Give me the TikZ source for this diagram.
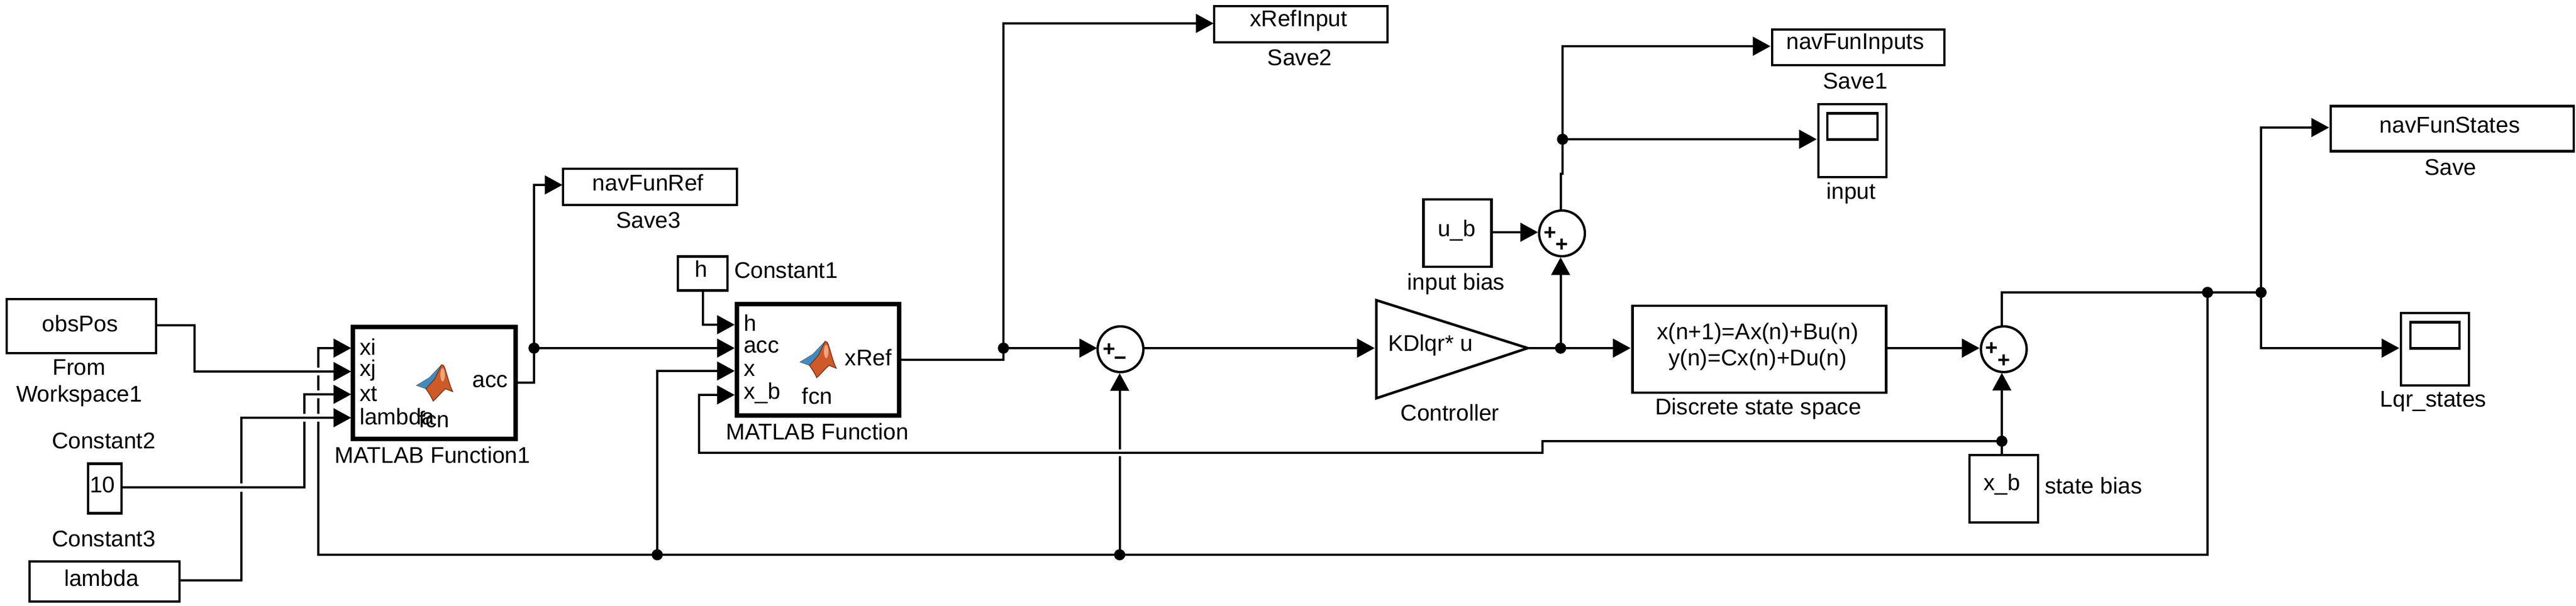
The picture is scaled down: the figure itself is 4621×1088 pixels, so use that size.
\documentclass[tikz,border=0pt]{standalone}
\usepackage{fontspec}
\setmainfont{Liberation Sans}
\usetikzlibrary{arrows.meta}
\definecolor{mlblue}{RGB}{60,140,195}
\definecolor{mlorange}{RGB}{205,90,40}
\definecolor{mldark}{RGB}{120,50,20}
\definecolor{mlhigh}{RGB}{240,165,125}
\tikzset{
  wire/.style={line width=1.14pt},
  sig/.style={wire,-{Triangle[length=9pt,width=9.5pt]}},
  box/.style={draw,line width=1.3pt,inner sep=0pt,outer sep=0pt,font=\fontsize{11.6}{12}\selectfont,align=center},
  fnblock/.style={draw,line width=2.3pt,inner sep=0pt,outer sep=0pt},
  lbl/.style={inner sep=0pt,outer sep=0pt,font=\fontsize{11.6}{13.6}\selectfont,align=center},
  dot/.style={circle,fill=black,inner sep=0pt,outer sep=0pt,minimum size=0.2cm},
  sumb/.style={circle,draw,line width=1.2pt,inner sep=0pt,outer sep=0pt,fill=white,minimum size=0.82cm},
  sgn/.style={inner sep=0pt,outer sep=0pt,font=\fontsize{11}{11}\bfseries\selectfont},
  mlogo/.pic={
    \fill[mlblue,draw=mldark!60!mlblue,line width=0.2pt] (0,37)--(23,23)--(45,0)--(48,2)--(33,25)--(17,43)--cycle;
    \fill[mlorange,draw=mldark,line width=0.4pt] (45,0)..controls (49,0) and (50,3)..(51,6)..controls (56,22) and (60,38)..(65,48)--(52,43)..controls (44,50) and (38,58)..(30,65)..controls (26,56) and (22,50)..(17,43)--(33,25)--cycle;
    \fill[mlhigh] (47,18) ellipse [x radius=4,y radius=12];
  }
}
\begin{document}
\begin{tikzpicture}[x=0.01cm,y=-0.01cm]
\useasboundingbox (0,0) rectangle (4621,1088);
% sources and blocks
\node[box,minimum width=2.68cm,minimum height=0.97cm] (obs) at (146,585.5) {};
\node[lbl] (obsT) at (144,581) {obsPos};
\node[lbl] (obsL) at (142,688) {From\\Workspace1};
\node[lbl] (c2L) at (186,791) {Constant2};
\node[box,minimum width=0.60cm,minimum height=0.89cm] (ten) at (188,877) {};
\node[lbl] (tenT) at (184,870) {10};
\node[lbl] (c3L) at (186,967) {Constant3};
\node[box,minimum width=2.69cm,minimum height=0.72cm] (lam) at (187.5,1044) {};
\node[lbl] (lamT) at (182,1038) {lambda};
\node[fnblock,minimum width=2.92cm,minimum height=2.01cm] (mf1) at (779,687.5) {};
\node[lbl] (mf1L) at (776,817) {MATLAB Function1};
\node[lbl,anchor=west] (p1) at (645,623) {xi};
\node[lbl,anchor=west] (p2) at (645,665) {xj};
\node[lbl,anchor=west] (p3) at (645,707) {xt};
\node[lbl,anchor=west] (p4) at (645,748) {lambda};
\node[lbl,anchor=east] (p5) at (911,685) {acc};
\pic at (747,655) {mlogo};
\node[lbl] (fcn1) at (779,753) {fcn};
\node[box,minimum width=0.89cm,minimum height=0.61cm] (hc) at (1260.5,491) {};
\node[lbl] (hT) at (1258,483) {h};
\node[lbl,anchor=west] (hL) at (1317,485) {Constant1};
\node[fnblock,minimum width=2.91cm,minimum height=2cm] (mf) at (1467.5,646) {};
\node[lbl] (mfL) at (1466,774.5) {MATLAB Function};
\node[lbl,anchor=west] (q1) at (1334,580) {h};
\node[lbl,anchor=west] (q2) at (1334,623) {acc};
\node[lbl,anchor=west] (q3) at (1334,665) {x};
\node[lbl,anchor=west] (q4) at (1334,706) {x\_b};
\node[lbl,anchor=east] (q5) at (1599.5,642) {xRef};
\pic at (1435,613) {mlogo};
\node[lbl] (fcn2) at (1466,711) {fcn};
\node[box,minimum width=3.12cm,minimum height=0.65cm] (nfr) at (1166,335.5) {};
\node[lbl] (nfrT) at (1162.5,328) {navFunRef};
\node[lbl] (nfrL) at (1163.5,395) {Save3};
\node[box,minimum width=3.11cm,minimum height=0.65cm] (xri) at (2333.5,43.5) {};
\node[lbl] (xriT) at (2329.5,37) {xRefInput};
\node[lbl] (xriL) at (2331.6,103) {Save2};
\node[sumb] (s1) at (2010,627) {};
\node[sgn] (s1a) at (1989.5,628) {+};
\node[sgn] (s1b) at (2010,648) {−};
\node[box,minimum width=1.22cm,minimum height=1.21cm] (ub) at (2614.5,418.5) {};
\node[lbl] (ubT) at (2613,414) {u\_b};
\node[lbl] (ubL) at (2612,510) {input bias};
\node[sumb] (s2) at (2802,419) {};
\node[sgn] (s2a) at (2781,419) {+};
\node[sgn] (s2b) at (2802,440) {+};
\draw[line width=1.3pt,miter limit=10] (2469,539) coordinate (cA) -- (2740.5,625) coordinate (cT) -- (2469,715) coordinate (cB) -- cycle;
\coordinate (cIn) at (2466,625);
\node[lbl,anchor=west] (ctrlT) at (2490,620) {KDlqr* u};
\node[lbl] (ctrlL) at (2601,741) {Controller};
\node[box,minimum width=4.55cm,minimum height=1.56cm] (ss) at (3156,627) {};
\node[lbl] (ssT) at (3153,622.5) {x(n+1)=Ax(n)+Bu(n)\\y(n)=Cx(n)+Du(n)};
\node[lbl] (ssL) at (3154,734) {Discrete state space};
\node[sumb] (s3) at (3594.5,627) {};
\node[sgn] (s3a) at (3573,626.5) {+};
\node[sgn] (s3b) at (3594.5,648) {+};
\node[box,minimum width=1.23cm,minimum height=1.21cm] (xb) at (3594.5,877.5) {};
\node[lbl] (xbT) at (3591,870) {x\_b};
\node[lbl,anchor=west] (xbL) at (3668,871.5) {state bias};
\node[box,minimum width=3.09cm,minimum height=0.64cm] (nfi) at (3333.5,85) {};
\node[lbl] (nfiT) at (3328,79) {navFunInputs};
\node[lbl] (nfiL) at (3328,145) {Save1};
\node[box,minimum width=1.22cm,minimum height=1.31cm] (sc1) at (3323,252.5) {};
\node[box,minimum width=0.90cm,minimum height=0.47cm] (sc1i) at (3323,227) {};
\node[lbl] (sc1L) at (3320.6,347) {input};
\node[box,minimum width=4.36cm,minimum height=0.81cm] (nfs) at (4399,231) {};
\node[lbl] (nfsT) at (4394.5,224.6) {navFunStates};
\node[lbl] (nfsL) at (4396,300) {Save};
\node[box,minimum width=1.22cm,minimum height=1.30cm] (sc2) at (4368,627) {};
\node[box,minimum width=0.88cm,minimum height=0.47cm] (sc2i) at (4368,602) {};
\node[lbl] (sc2L) at (4365,721) {Lqr\_states};
% junctions
\node[dot] (jm1) at (958,625) {};
\node[dot] (jm2) at (1800,625) {};
\node[dot] (jf1) at (1179,996) {};
\node[dot] (jf2) at (2008.5,996) {};
\node[dot] (jc) at (2799.5,625) {};
\node[dot] (ju) at (2803,250) {};
\node[dot] (jxb) at (3591,792) {};
\node[dot] (jo1) at (3960,525) {};
\node[dot] (jo2) at (4056,525) {};
% ports
\coordinate (m1a) at (630,625);
\coordinate (m1b) at (630,667);
\coordinate (m1c) at (630,708);
\coordinate (m1d) at (630,750);
\coordinate (mfa) at (1318,583);
\coordinate (mfb) at (1318,625);
\coordinate (mfc) at (1318,666);
\coordinate (mfd) at (1318,709);
\coordinate (s1l) at (1968,625);
\coordinate (s1o) at (2052,625);
\coordinate (s1d) at (2008.5,670);
\coordinate (s2d) at (2799.5,462);
\coordinate (s2t) at (2799.5,376);
\coordinate (ssi) at (2925,625);
\coordinate (sso) at (3386,625);
\coordinate (s3l) at (3551,625);
\coordinate (s3d) at (3591,669.5);
\coordinate (s3t) at (3591,585);
\coordinate (xbt) at (3591,815);
\coordinate (nfrIn) at (1009,332);
\coordinate (xriIn) at (2177,42);
\coordinate (nfiIn) at (3176,83);
\coordinate (sc1In) at (3259,250);
\coordinate (nfsIn) at (4178,229);
\coordinate (sc2In) at (4304,625);
\coordinate (ubIn) at (2759,417);
\coordinate (obsOut) at (282,583.5);
\coordinate (tenOut) at (220,875);
\coordinate (lamOut) at (324,1042);
\coordinate (m1Out) at (929,687);
\coordinate (ubOut) at (2678,417);
% feedback bus, interrupted where other wires cross it
\draw[sig] (jo1.center) |- (571,996) |- (m1a);
\fill[white] (565,660) rectangle (577,674);
\fill[white] (565,701) rectangle (577,715);
\fill[white] (565,743) rectangle (577,757);
\draw[sig] (jf1.center) |- (mfc);
\draw[sig] (jf2.center) -- (s1d);
\fill[white] (2002,807) rectangle (2015,819);
% wires
\draw[sig] (obsOut) -| (349,667) -- (m1b);
\draw[sig] (tenOut) -| (546,708) -- (m1c);
\fill[white] (540,743) rectangle (552,757);
\draw[wire] (lamOut) -| (433,883);
\draw[sig] (433,868) |- (m1d);
\draw[sig] (m1Out) -| (958,332) -- (nfrIn);
\draw[sig] (jm1.center) -- (mfb);
\draw[sig] (hc.south) |- (mfa);
\draw[sig] (mf.east) -| (1800,42) -- (xriIn);
\draw[sig] (jm2.center) -- (s1l);
\draw[sig] (s1o) -- (cIn);
\draw[wire] (cT) -- (jc.center);
\draw[sig] (jc.center) -- (ssi);
\draw[sig] (jc.center) -- (s2d);
\draw[sig] (ubOut) -- (ubIn);
\draw[wire] (s2t) -- (2799.5,312) -- (2803,312) -- (ju.center);
\draw[sig] (ju.center) |- (nfiIn);
\draw[sig] (ju.center) -- (sc1In);
\draw[sig] (sso) -- (s3l);
\draw[sig] (xbt) -- (s3d);
\draw[wire] (s3t) |- (jo1.center);
\draw[wire] (jo1.center) -- (jo2.center);
\draw[sig] (jo2.center) |- (nfsIn);
\draw[sig] (jo2.center) |- (sc2In);
\draw[sig] (jxb.center) -- (2767,792) -- (2767,813) -| (1254,709) -- (mfd);
\end{tikzpicture}
\end{document}
